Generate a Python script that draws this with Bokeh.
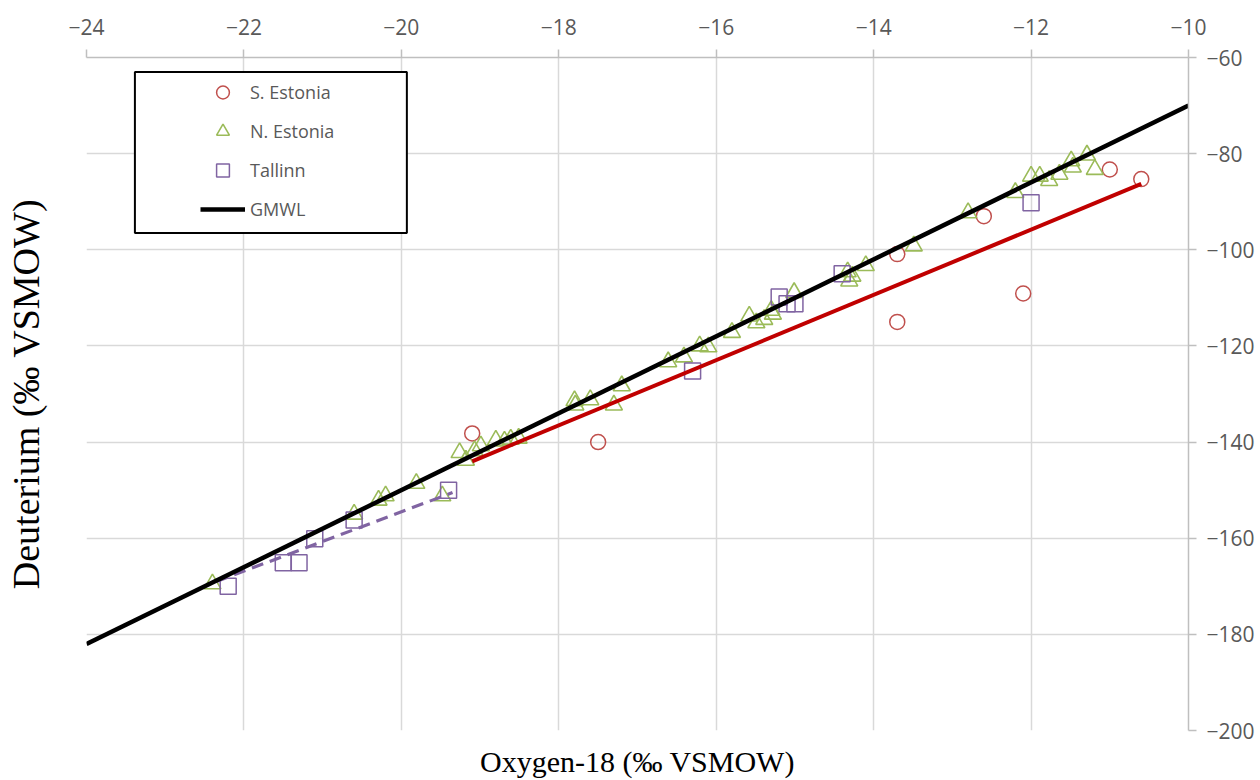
from bokeh.plotting import figure
from bokeh.models import (LinearAxis, FixedTicker, CustomJSTickFormatter,
                          Legend, LegendItem, BoxAnnotation)
from bokeh.embed import file_html
from bokeh.resources import INLINE

# ---- data ----
s_est_x = [-19.1, -17.5, -13.7, -13.7, -12.6, -12.1, -11.0, -10.6]
s_est_y = [-138.2, -140.0, -100.9, -115.0, -93.0, -109.1, -83.3, -85.3]

n_est_x = [-22.40, -20.60, -20.29, -20.20, -19.81, -19.48, -19.26, -19.18, -19.07, -18.99,
           -18.80, -18.69, -18.61, -18.51, -17.80, -17.79, -17.60, -17.30, -17.20, -16.61,
           -16.41, -16.21, -16.10, -15.80, -15.58, -15.49, -15.39, -15.30, -15.28, -15.01,
           -14.33, -14.31, -14.27, -14.10, -13.49, -12.80, -12.20, -12.00, -11.89, -11.77,
           -11.64, -11.49, -11.47, -11.29, -11.19]
n_est_y = [-169.5, -155.0, -152.1, -151.2, -148.6, -151.2, -142.2, -143.8, -141.8, -140.8,
           -139.6, -139.8, -139.4, -139.2, -131.4, -132.3, -131.2, -132.3, -128.3, -123.3,
           -122.3, -120.0, -120.2, -117.2, -113.8, -115.2, -114.5, -112.6, -113.4, -108.9,
           -104.6, -106.5, -105.5, -103.3, -99.2, -92.3, -88.1, -84.7, -84.7, -85.6,
           -84.3, -81.5, -82.8, -80.3, -83.3]

tallinn_x = [-22.2, -21.5, -21.3, -21.1, -20.6, -19.4, -16.3, -15.2, -15.1, -15.0, -14.4, -12.0]
tallinn_y = [-170.0, -165.1, -165.1, -160.1, -156.2, -150.0, -125.2, -109.8, -111.2, -111.2, -105.0, -90.2]

gmwl_x = [-24.0, -10.0]
gmwl_y = [-182.0, -70.0]

s_trend_x = [-19.1, -10.6]
s_trend_y = [-144.0, -86.3]

t_trend_x = [-22.35, -19.35]
t_trend_y = [-169.0, -150.5]

x_ticks = list(range(-24, -9, 2))
y_ticks = list(range(-200, -59, 20))

RED = "#c0504d"
GREEN = "#9bbb59"
PURPLE = "#8064a2"

p = figure(width=1260, height=780, x_range=(-24, -10), y_range=(-200, -60),
           x_axis_location="above", y_axis_location="right",
           output_backend="svg", toolbar_location=None,
           min_border_left=86, min_border_right=72, min_border_top=57, min_border_bottom=50)
p.outline_line_color = None
p.background_fill_color = "white"

fmt = CustomJSTickFormatter(code="return tick < 0 ? '\u2212' + Math.abs(tick) : String(tick);")

xa = p.xaxis[0]
xa.ticker = FixedTicker(ticks=x_ticks)
ya = p.yaxis[0]
ya.ticker = FixedTicker(ticks=y_ticks)
for ax in (xa, ya):
    ax.formatter = fmt
    ax.axis_line_color = "#bfbfbf"
    ax.axis_line_width = 1.5
    ax.major_tick_line_color = "#bfbfbf"
    ax.major_tick_line_width = 1.5
    ax.major_tick_in = 0
    ax.major_tick_out = 8
    ax.minor_tick_out = 0
    ax.minor_tick_in = 0
    ax.major_label_text_color = "#595959"
    ax.major_label_text_font = "Open Sans"
    ax.major_label_text_font_size = "21px"
xa.major_label_standoff = 15
ya.major_label_standoff = 10

p.xgrid.ticker = FixedTicker(ticks=x_ticks)
p.ygrid.ticker = FixedTicker(ticks=y_ticks)
for g in (p.xgrid, p.ygrid):
    g.grid_line_color = "#d9d9d9"
    g.grid_line_width = 1.5

# axis titles (bottom and left)
bx = LinearAxis(ticker=FixedTicker(ticks=[]), axis_label="Oxygen-18 (‰ VSMOW)")
lx = LinearAxis(ticker=FixedTicker(ticks=[]), axis_label="Deuterium (‰ VSMOW)")
for ax in (bx, lx):
    ax.axis_line_color = None
    ax.major_tick_line_color = None
    ax.minor_tick_line_color = None
    ax.axis_label_text_font = "Liberation Serif"
    ax.axis_label_text_font_style = "normal"
    ax.axis_label_text_color = "black"
bx.axis_label_text_font_size = "30px"
lx.axis_label_text_font_size = "38px"
bx.axis_label_standoff = 14
lx.axis_label_standoff = 40
p.add_layout(bx, "below")
p.add_layout(lx, "left")

# markers
r_s = p.scatter(s_est_x, s_est_y, marker="circle", size=15, fill_color=None,
                line_color=RED, line_width=1.5)
r_n = p.scatter(n_est_x, n_est_y, marker="triangle", size=17, fill_color=None,
                line_color=GREEN, line_width=1.6)
r_t = p.scatter(tallinn_x, tallinn_y, marker="square", size=16, fill_color=None,
                line_color=PURPLE, line_width=1.5)

# lines
p.line(t_trend_x, t_trend_y, line_color=PURPLE, line_width=3.2, line_dash="12 7")
p.line(s_trend_x, s_trend_y, line_color="#c00000", line_width=4)
r_g = p.line(gmwl_x, gmwl_y, line_color="black", line_width=4.5)

# legend frame
box = BoxAnnotation(left=-23.385, right=-19.93, top=-63.0, bottom=-96.5,
                    fill_color="white", fill_alpha=1.0, line_color="black",
                    line_alpha=1.0, line_width=2, level="annotation")
p.add_layout(box)

legend = Legend(items=[
    LegendItem(label="S. Estonia", renderers=[r_s]),
    LegendItem(label="N. Estonia", renderers=[r_n]),
    LegendItem(label="Tallinn", renderers=[r_t]),
    LegendItem(label="GMWL", renderers=[r_g]),
], location=(114, 505))
legend.padding = 0
legend.margin = 0
legend.spacing = 7
legend.glyph_width = 45
legend.glyph_height = 32
legend.label_height = 32
legend.label_standoff = 5
legend.label_text_font = "Open Sans"
legend.label_text_font_size = "18px"
legend.label_text_color = "#595959"
legend.background_fill_alpha = 0
legend.border_line_alpha = 0
p.add_layout(legend, "center")

open("out.html", "w", encoding="utf-8").write(file_html(p, INLINE))
